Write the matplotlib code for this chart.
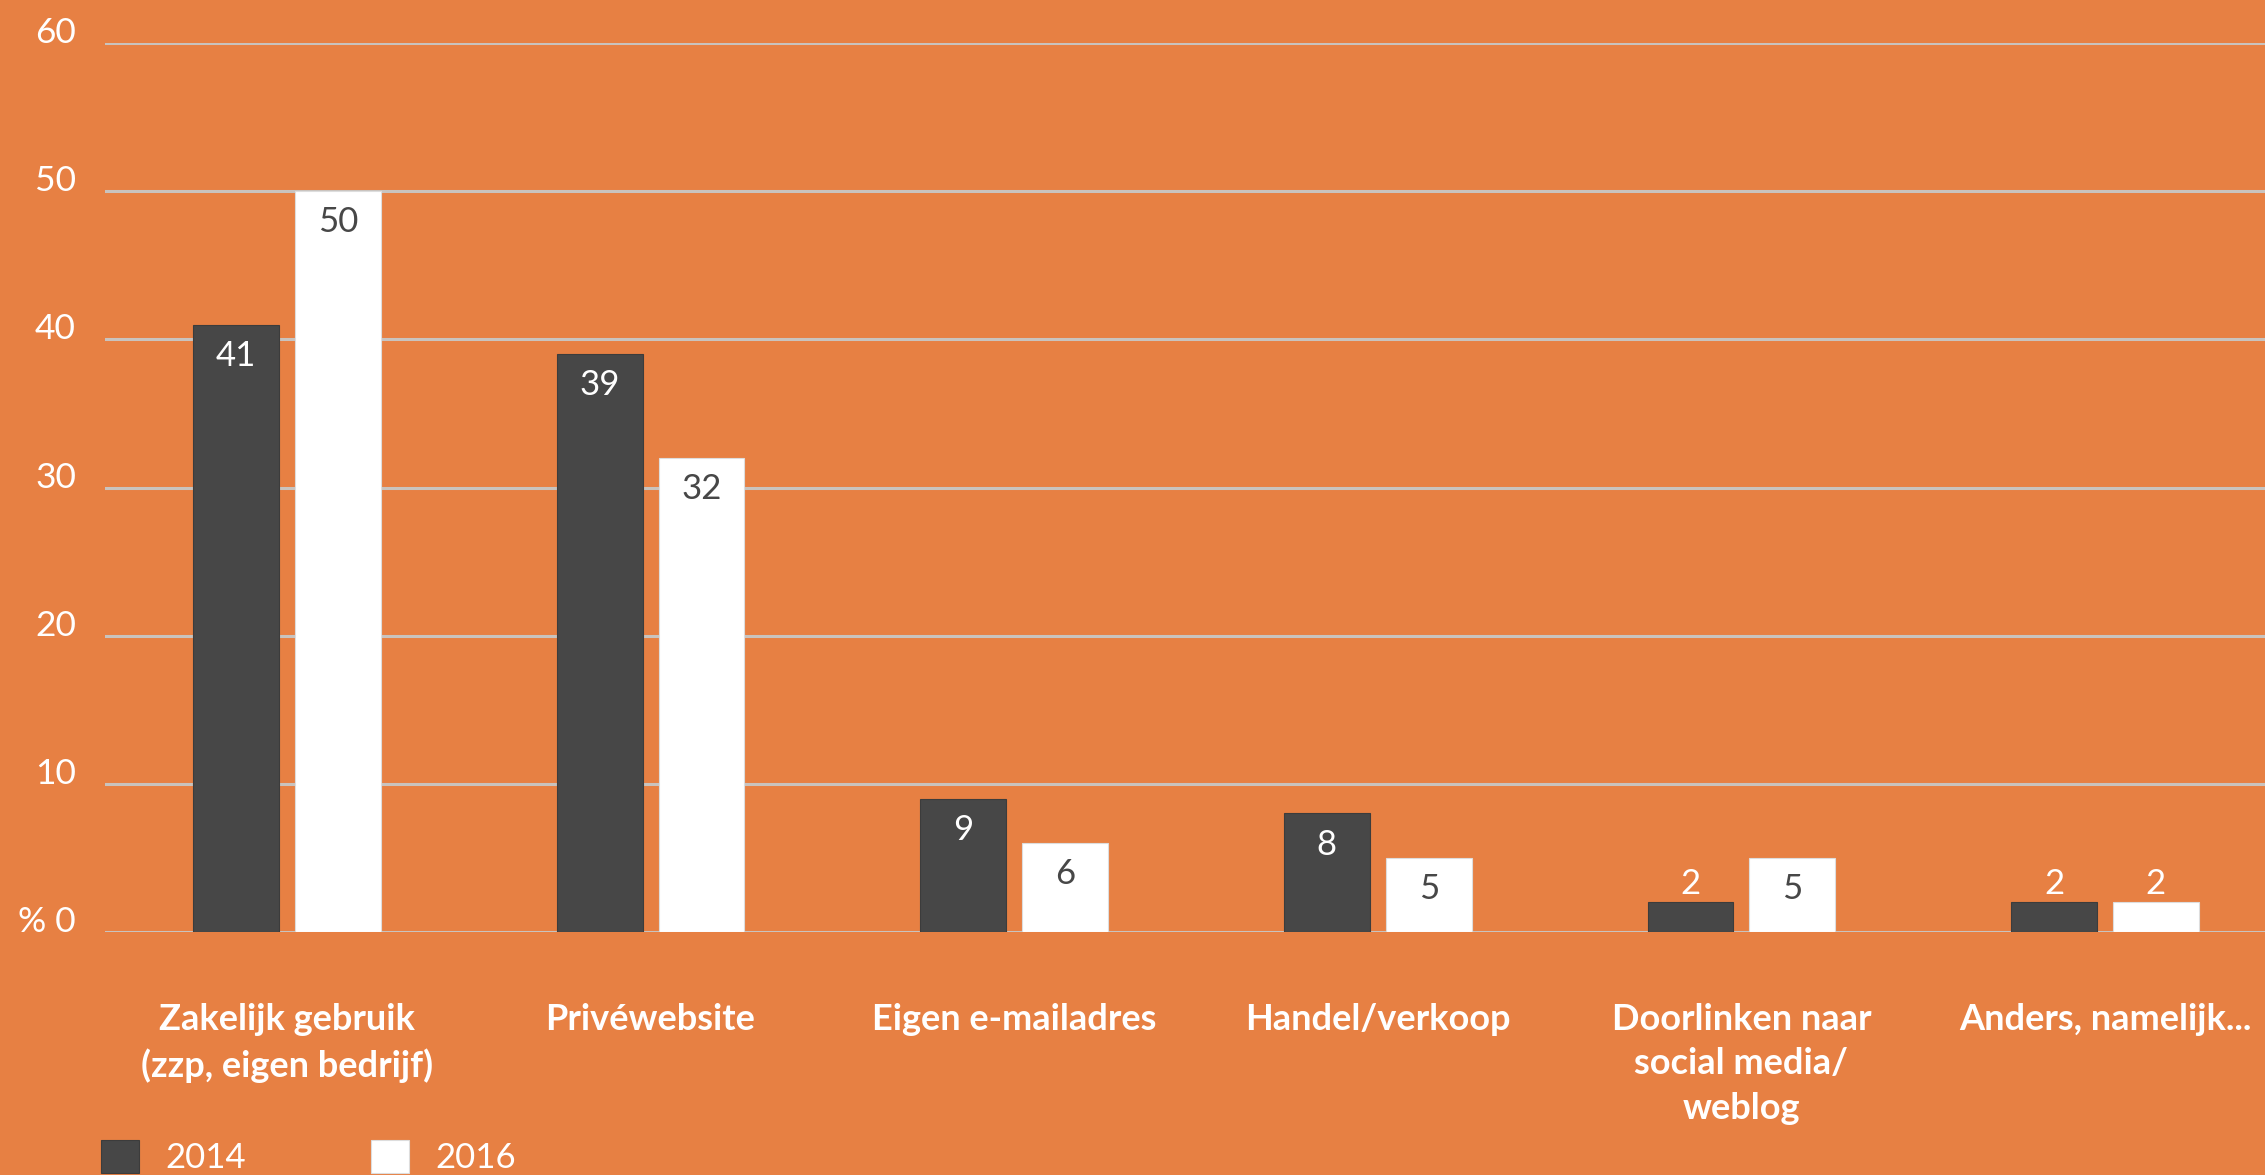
import matplotlib
matplotlib.use("Agg")
import matplotlib.pyplot as plt
import numpy as np

# Data
categories = [
    "Zakelijk gebruik\n(zzp, eigen bedrijf)",
    "Privéwebsite",
    "Eigen e-mailadres",
    "Handel/verkoop",
    "Doorlinken naar\nsocial media/\nweblog",
    "Anders, namelijk...",
]
series_names = ["2014", "2016"]
values_2014 = [41, 39, 9, 8, 2, 2]
values_2016 = [50, 32, 6, 5, 5, 2]
ytick_values = [0, 10, 20, 30, 40, 50, 60]
ytick_labels = ["% 0", "10", "20", "30", "40", "50", "60"]

# Styling
BG = "#E78043"
DARK = "#474747"
WHITE = "#FFFFFF"
GRID = "#C9C3BE"
plt.rcParams["font.family"] = ["Lato", "DejaVu Sans"]

fig = plt.figure(figsize=(22.65, 11.75), dpi=100, facecolor=BG)
ax = fig.add_axes([0.0464, 0.2068, 0.9536, 0.7566], facecolor=BG)

x = np.arange(len(categories))
width = 0.236
offset = 0.14

bars_a = ax.bar(x - offset, values_2014, width, color=DARK, edgecolor="#3c3c3c",
                linewidth=0.8, zorder=3, label=series_names[0])
bars_b = ax.bar(x + offset, values_2016, width, color=WHITE, edgecolor="#dddddd",
                linewidth=0.8, zorder=3, label=series_names[1])

# Value labels: inside the top of larger bars, above small bars
for bars, vals, inner_color in ((bars_a, values_2014, WHITE), (bars_b, values_2016, DARK)):
    for rect, v in zip(bars, vals):
        cx = rect.get_x() + rect.get_width() / 2
        if v >= 5:
            ax.annotate(str(v), (cx, v), xytext=(0, -22.5), textcoords="offset points",
                        ha="center", va="center", fontsize=25, color=inner_color, zorder=4)
        else:
            ax.annotate(str(v), (cx, v), xytext=(0, 13), textcoords="offset points",
                        ha="center", va="center", fontsize=25, color=WHITE, zorder=4)

ax.set_xlim(-0.5, 5.44)
ax.set_ylim(0, 60)

ax.set_yticks(ytick_values)
ax.set_yticklabels(ytick_labels, fontsize=25.5, color=WHITE, va="baseline")
ax.tick_params(axis="y", length=0, pad=21)
ax.yaxis.grid(True, color=GRID, linewidth=2.2, zorder=1)
ax.set_axisbelow(True)

ax.set_xticks(x)
ax.set_xticklabels(categories, fontsize=26, fontweight="bold", color=WHITE,
                   linespacing=1.43, va="top")
ax.tick_params(axis="x", length=0, pad=51)

for side in ("top", "right", "left", "bottom"):
    ax.spines[side].set_visible(False)

leg = fig.legend(handles=[bars_a, bars_b], labels=series_names, loc="upper left",
                 bbox_to_anchor=(0.0445, 0.0298), ncol=2, frameon=False, fontsize=25,
                 handlelength=1.1, handleheight=1.1, handletextpad=0.75,
                 columnspacing=3.6, borderaxespad=0, borderpad=0)
for t in leg.get_texts():
    t.set_color(WHITE)

fig.savefig("out.png", dpi=100, facecolor=BG)
